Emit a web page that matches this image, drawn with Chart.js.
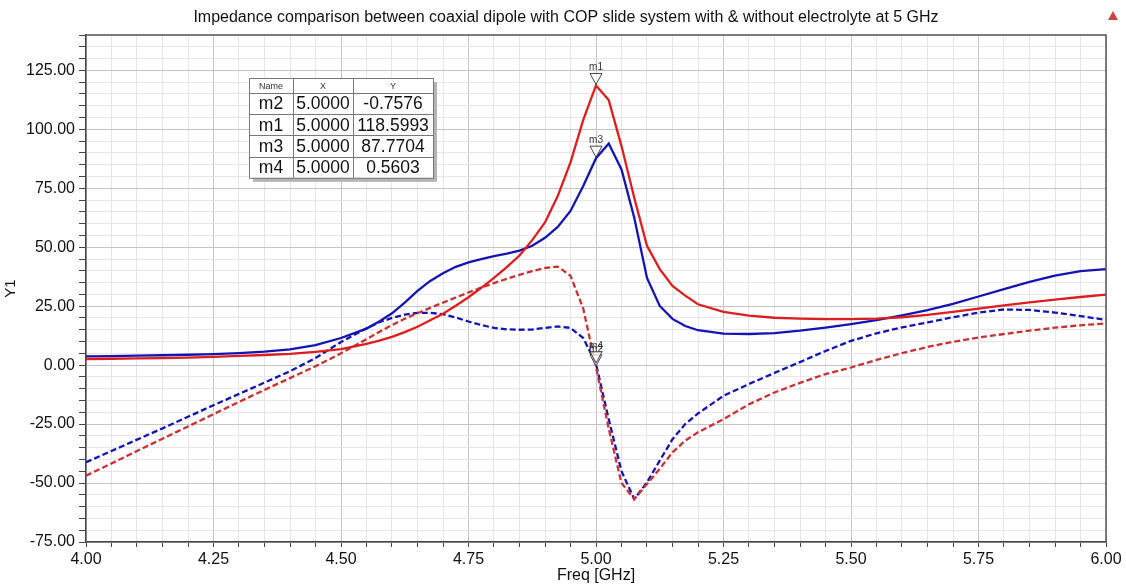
<!DOCTYPE html>
<html>
<head>
<meta charset="utf-8">
<script src="https://cdn.jsdelivr.net/npm/chart.js@4.4.0/dist/chart.umd.min.js"></script>
<style>
  html, body { margin: 0; padding: 0; background: #fff; }
  #wrap { width: 1126px; height: 586px; }
</style>
</head>
<body>
<div id="wrap"><canvas id="impChart" width="1126" height="586"></canvas></div>
<script>
// frequency sweep (GHz), finer steps where the curves bend
var freq = [4.00, 4.05, 4.10, 4.15, 4.20, 4.25, 4.30, 4.35, 4.40, 4.45, 4.50,
            4.55, 4.575, 4.60, 4.625, 4.65, 4.675, 4.70, 4.725, 4.75, 4.775, 4.80, 4.825,
            4.85, 4.875, 4.90, 4.925, 4.95, 4.975, 5.00, 5.025, 5.05, 5.075, 5.10, 5.125, 5.15, 5.175, 5.20,
            5.25, 5.30, 5.35, 5.40, 5.45, 5.50, 5.55, 5.60, 5.65, 5.70, 5.75, 5.80, 5.85, 5.90, 5.95, 6.00];

// red solid (m1)
var redSolid = [2.6, 2.7, 2.9, 3.0, 3.2, 3.5, 3.9, 4.3, 4.8, 5.6, 6.8,
                9.0, 10.4, 12.0, 14.0, 16.3, 19.0, 21.8, 25.2, 28.8, 32.8, 37.0, 41.6,
                46.5, 53.0, 60.5, 71.7, 86.0, 104.0, 118.5993, 112.4, 92.9, 71.0, 50.6, 40.7, 33.6, 29.5, 25.8,
                22.6, 21.0, 20.1, 19.7, 19.5, 19.5, 19.7, 20.3, 21.3, 22.6, 24.0, 25.3, 26.6, 27.8, 28.9, 29.9];

// blue solid (m3)
var blueSolid = [3.7, 3.8, 4.0, 4.2, 4.4, 4.7, 5.1, 5.7, 6.7, 8.5, 11.5,
                 15.5, 18.5, 22.0, 26.5, 31.5, 35.7, 39.0, 41.7, 43.6, 45.0, 46.2, 47.3,
                 48.6, 50.6, 54.0, 58.6, 65.4, 76.0, 87.7704, 94.0, 83.0, 62.5, 37.0, 25.1, 19.6, 16.6, 14.8,
                 13.4, 13.2, 13.6, 14.6, 15.9, 17.4, 19.1, 21.1, 23.3, 26.0, 29.1, 32.2, 35.3, 38.0, 39.9, 40.7];

// red dashed (m2)
var redDashed = [-46.9, -41.7, -36.4, -31.2, -26.0, -20.8, -15.6, -10.5, -5.5, -0.5, 5.0,
                 11.0, 14.1, 17.0, 19.7, 22.0, 24.3, 26.5, 28.7, 30.8, 32.9, 34.8, 36.6,
                 38.3, 39.9, 41.2, 41.8, 37.9, 24.0, -0.7576, -27.0, -50.0, -56.8, -50.4, -44.0, -37.0, -32.0, -28.5,
                 -22.9, -16.6, -11.6, -7.5, -3.8, -1.0, 2.2, 5.1, 7.7, 9.9, 11.7, 13.2, 14.6, 15.9, 16.9, 17.7];

// blue dashed (m4)
var blueDashed = [-41.2, -36.4, -31.6, -26.8, -21.9, -17.0, -12.2, -7.4, -2.6, 3.0, 9.8,
                  15.6, 18.2, 20.0, 21.4, 22.2, 22.2, 21.6, 20.2, 18.5, 17.0, 15.8, 15.2,
                  15.0, 15.1, 15.8, 16.4, 15.8, 11.5, 0.5603, -23.0, -45.0, -56.8, -49.7, -40.5, -31.4, -25.0, -20.5,
                  -13.0, -8.0, -3.3, 1.3, 6.0, 10.3, 13.5, 16.0, 18.1, 20.3, 22.3, 23.6, 23.4, 22.3, 20.8, 19.2];

// markers, in table order
var markerNames = ['m2', 'm1', 'm3', 'm4'];
var markerX = [5.0, 5.0, 5.0, 5.0];
var markerY = [-0.7576, 118.5993, 87.7704, 0.5603];

var titleText = 'Impedance comparison between coaxial dipole with COP slide system with & without electrolyte at 5 GHz';
var FONT = "'Liberation Sans', Arial, sans-serif";

function pts(vals) {
    return freq.map(function (f, i) { return { x: f, y: vals[i] }; });
}

function isMult(v, step) {
    var r = v / step;
    return Math.abs(r - Math.round(r)) < 1e-6;
}

// title, frame, marker triangles and the marker table
var extras = {
    id: 'extras',
    afterDraw: function (chart) {
        var c = chart.ctx, a = chart.chartArea;
        var xs = chart.scales.x, ys = chart.scales.y;
        c.save();

        // title
        c.fillStyle = '#111';
        c.font = '16px ' + FONT;
        c.textAlign = 'center';
        c.textBaseline = 'middle';
        c.fillText(titleText, 566, 18);

        // little logo top right
        c.fillStyle = '#c84646';
        c.beginPath();
        c.moveTo(1113, 11); c.lineTo(1118, 20); c.lineTo(1108, 20); c.closePath();
        c.fill();

        // top / right frame
        c.strokeStyle = '#555';
        c.lineWidth = 1.5;
        c.beginPath();
        c.moveTo(a.left, a.top);
        c.lineTo(a.right, a.top);
        c.lineTo(a.right, a.bottom);
        c.stroke();

        // markers
        c.lineWidth = 1;
        c.font = '10px ' + FONT;
        c.textBaseline = 'bottom';
        for (var i = 0; i < markerNames.length; i++) {
            var px = xs.getPixelForValue(markerX[i]);
            var py = ys.getPixelForValue(markerY[i]);
            c.beginPath();
            c.moveTo(px, py - 1);
            c.lineTo(px - 6, py - 12);
            c.lineTo(px + 6, py - 12);
            c.closePath();
            c.fillStyle = 'rgba(255,255,255,0.7)';
            c.fill();
            c.strokeStyle = '#444';
            c.stroke();
            c.fillStyle = '#333';
            c.fillText(markerNames[i], px, py - 13);
        }

        // marker table
        var tx = 249, ty = 78, tw = 184, hh = 15, rh = 21.2;
        var th = hh + rh * markerNames.length;
        var cols = [tx, 293, 353, tx + tw];
        c.fillStyle = '#b4b4b4';
        c.fillRect(tx + 4, ty + 4, tw, th);
        c.fillStyle = '#fff';
        c.fillRect(tx, ty, tw, th);
        c.strokeStyle = '#777';
        c.lineWidth = 1;
        c.strokeRect(tx + 0.5, ty + 0.5, tw, th);
        c.beginPath();
        for (var k = 1; k < 3; k++) {
            c.moveTo(cols[k] + 0.5, ty);
            c.lineTo(cols[k] + 0.5, ty + th);
        }
        for (var r = 0; r < markerNames.length; r++) {
            var ly = Math.round(ty + hh + rh * r) + 0.5;
            c.moveTo(tx, ly);
            c.lineTo(tx + tw, ly);
        }
        c.stroke();

        c.textAlign = 'center';
        c.textBaseline = 'middle';
        c.fillStyle = '#333';
        c.font = '9px ' + FONT;
        var heads = ['Name', 'X', 'Y'];
        for (k = 0; k < 3; k++) c.fillText(heads[k], (cols[k] + cols[k + 1]) / 2, ty + hh / 2 + 1);
        c.fillStyle = '#111';
        c.font = '17.5px ' + FONT;
        for (r = 0; r < markerNames.length; r++) {
            var cy = ty + hh + rh * r + rh / 2 + 1;
            var cells = [markerNames[r], markerX[r].toFixed(4), markerY[r].toFixed(4)];
            for (k = 0; k < 3; k++) c.fillText(cells[k], (cols[k] + cols[k + 1]) / 2, cy);
        }
        c.restore();
    }
};

var ctx = document.getElementById('impChart').getContext('2d');
var chart = new Chart(ctx, {
    type: 'line',
    data: {
        datasets: [
            { data: pts(redSolid), borderColor: '#dc1e1e', borderWidth: 2.3 },
            { data: pts(blueSolid), borderColor: '#1414b4', borderWidth: 2.3 },
            { data: pts(redDashed), borderColor: '#c83232', borderWidth: 2.3, borderDash: [6, 3] },
            { data: pts(blueDashed), borderColor: '#1414b4', borderWidth: 2.3, borderDash: [6, 3] }
        ]
    },
    options: {
        responsive: false,
        animation: false,
        layout: { padding: { left: 0, right: 20, top: 35, bottom: 0 } },
        elements: { point: { radius: 0 }, line: { tension: 0 } },
        plugins: { legend: { display: false }, tooltip: { enabled: false } },
        scales: {
            x: {
                type: 'linear', min: 4, max: 6,
                afterFit: function (s) { s.height = 44; },
                ticks: {
                    stepSize: 0.05, autoSkip: false, maxRotation: 0, padding: 3,
                    color: '#111', font: { family: FONT, size: 16 },
                    callback: function (v) { return isMult(v, 0.25) ? v.toFixed(2) : ''; }
                },
                grid: {
                    color: function (c) { return isMult(c.tick.value, 0.25) ? '#c4c4c4' : '#e6e6e6'; },
                    tickColor: '#444', tickLength: 5
                },
                border: { color: '#444', width: 1.5 },
                title: { display: true, text: 'Freq [GHz]', color: '#111', font: { family: FONT, size: 16 }, padding: 1 }
            },
            y: {
                min: -75, max: 140,
                afterFit: function (s) { s.width = 86; },
                ticks: {
                    stepSize: 5, autoSkip: false, padding: 4,
                    color: '#111', font: { family: FONT, size: 16 },
                    callback: function (v) { return isMult(v, 25) ? v.toFixed(2) : ''; }
                },
                grid: {
                    color: function (c) { return isMult(c.tick.value, 25) ? '#c4c4c4' : '#e6e6e6'; },
                    tickColor: '#444', tickLength: 7
                },
                border: { color: '#444', width: 1.5 },
                title: { display: true, text: 'Y1', color: '#111', font: { family: FONT, size: 15 }, padding: 2 }
            }
        }
    },
    plugins: [extras]
});
</script>
</body>
</html>
